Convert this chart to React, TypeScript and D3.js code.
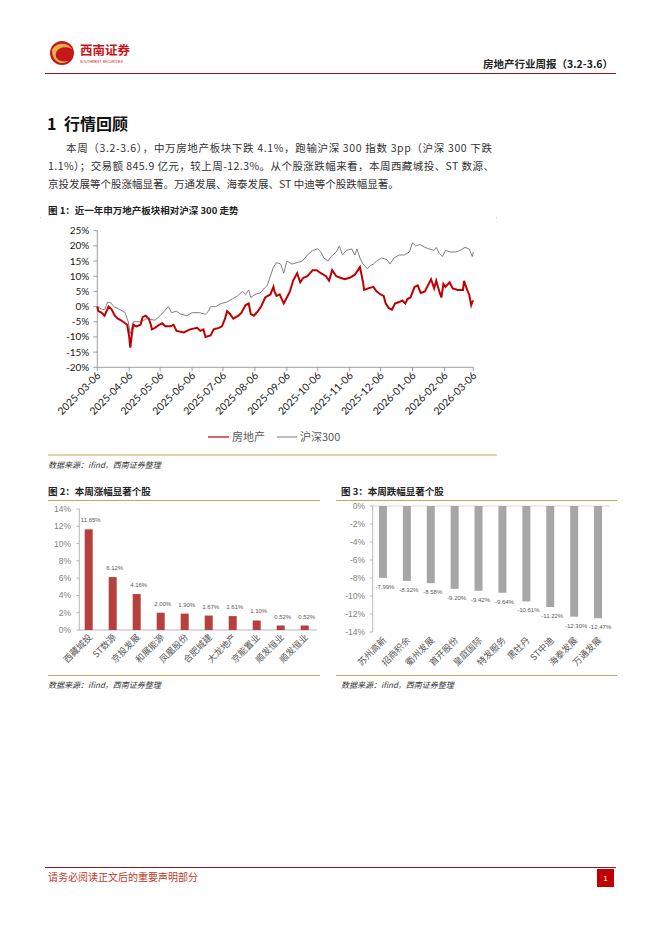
import React from "react";
import * as d3 from "d3";

const CJK = "'Noto Sans CJK SC', 'Liberation Sans', sans-serif";
const LAT = "'Liberation Sans', 'Noto Sans CJK SC', sans-serif";
const CAL = "Lato, 'Noto Sans CJK SC', sans-serif";

// chart 1: cumulative return (%), date / value
const monthTicks = [
  "2025-03-06", "2025-04-06", "2025-05-06", "2025-06-06", "2025-07-06", "2025-08-06", "2025-09-06",
  "2025-10-06", "2025-11-06", "2025-12-06", "2026-01-06", "2026-02-06", "2026-03-06",
];
const pctTicks1 = [-20, -15, -10, -5, 0, 5, 10, 15, 20, 25];

const realty: [string, number][] = [
  ["2025-03-06", 0], ["2025-03-07", -1.5], ["2025-03-10", -2], ["2025-03-13", -3], ["2025-03-17", 0],
  ["2025-03-20", -1], ["2025-03-23", -3], ["2025-03-26", -4], ["2025-03-29", -4.5], ["2025-04-02", -5.5],
  ["2025-04-04", -6], ["2025-04-06", -10], ["2025-04-07", -13.5], ["2025-04-09", -8], ["2025-04-10", -6],
  ["2025-04-13", -6.5], ["2025-04-17", -6], ["2025-04-19", -3.5], ["2025-04-22", -3], ["2025-04-25", -4],
  ["2025-04-27", -6], ["2025-04-28", -7.5], ["2025-05-01", -7], ["2025-05-05", -6], ["2025-05-08", -5.5],
  ["2025-05-11", -6.5], ["2025-05-16", -6.5], ["2025-05-19", -6], ["2025-05-22", -8], ["2025-05-29", -8.5],
  ["2025-06-04", -7.5], ["2025-06-11", -7], ["2025-06-14", -8], ["2025-06-17", -7.5], ["2025-06-19", -10],
  ["2025-06-24", -9.5], ["2025-06-27", -7.5], ["2025-07-02", -7], ["2025-07-05", -6.5], ["2025-07-08", -4],
  ["2025-07-10", -1.5], ["2025-07-13", -2.5], ["2025-07-16", -4], ["2025-07-21", -3], ["2025-07-24", -2],
  ["2025-07-28", 0.5], ["2025-07-31", 1], ["2025-08-02", -2.5], ["2025-08-05", -3], ["2025-08-09", -1.5],
  ["2025-08-12", 0], ["2025-08-16", 3], ["2025-08-21", 4], ["2025-08-24", 6.5], ["2025-08-25", 5],
  ["2025-08-27", 3.5], ["2025-08-30", 4], ["2025-09-03", 1], ["2025-09-06", 3], ["2025-09-09", 5],
  ["2025-09-12", 8.5], ["2025-09-16", 11], ["2025-09-19", 8], ["2025-09-22", 9.5], ["2025-09-26", 10],
  ["2025-10-01", 12], ["2025-10-05", 12], ["2025-10-09", 11], ["2025-10-14", 10], ["2025-10-17", 8.5],
  ["2025-10-20", 12], ["2025-10-24", 10], ["2025-10-28", 9.5], ["2025-11-01", 9], ["2025-11-06", 9.5],
  ["2025-11-11", 10.5], ["2025-11-14", 12], ["2025-11-16", 13], ["2025-11-19", 8], ["2025-11-20", 5.5],
  ["2025-11-24", 6], ["2025-11-29", 6.5], ["2025-12-02", 5], ["2025-12-06", 4], ["2025-12-09", 3.5],
  ["2025-12-11", 1], ["2025-12-14", -0.5], ["2025-12-17", -1], ["2025-12-20", 1], ["2025-12-24", 1.5],
  ["2025-12-27", 2], ["2025-12-30", 1], ["2026-01-01", 2.5], ["2026-01-04", 3], ["2026-01-08", 6.5],
  ["2026-01-11", 7], ["2026-01-14", 4.5], ["2026-01-18", 5], ["2026-01-21", 7], ["2026-01-24", 9],
  ["2026-01-27", 6], ["2026-01-29", 8.5], ["2026-02-01", 5], ["2026-02-03", 3], ["2026-02-05", 7.5],
  ["2026-02-07", 6.5], ["2026-02-11", 8], ["2026-02-14", 6], ["2026-02-19", 5.5], ["2026-02-24", 5.5],
  ["2026-02-25", 8.5], ["2026-02-28", 5.5], ["2026-03-02", 4], ["2026-03-04", 0.5], ["2026-03-05", 1.5],
  ["2026-03-06", 2],
];

const hs300: [string, number][] = [
  ["2025-03-06", 0], ["2025-03-10", -0.8], ["2025-03-13", -1], ["2025-03-16", 1.5], ["2025-03-19", 1.3],
  ["2025-03-22", 0], ["2025-03-28", -1], ["2025-04-02", -2], ["2025-04-05", -5], ["2025-04-07", -9],
  ["2025-04-10", -5], ["2025-04-17", -5], ["2025-04-23", -4], ["2025-05-01", -4.5], ["2025-05-06", -3],
  ["2025-05-14", 0], ["2025-05-17", -2], ["2025-05-22", -1.5], ["2025-05-26", -2.5], ["2025-06-01", -3],
  ["2025-06-06", -2], ["2025-06-13", -2], ["2025-06-19", -2.5], ["2025-06-22", -1.5], ["2025-06-24", 0],
  ["2025-06-29", 0], ["2025-07-04", 1], ["2025-07-10", 1.5], ["2025-07-15", 2.5], ["2025-07-20", 3.5],
  ["2025-07-25", 5], ["2025-07-28", 4], ["2025-07-31", 5.5], ["2025-08-02", 3], ["2025-08-06", 4],
  ["2025-08-11", 4.5], ["2025-08-18", 7], ["2025-08-21", 10], ["2025-08-24", 13], ["2025-08-27", 14.5],
  ["2025-08-31", 14], ["2025-09-03", 11], ["2025-09-06", 15], ["2025-09-11", 14], ["2025-09-16", 14.5],
  ["2025-09-21", 15], ["2025-09-26", 17], ["2025-10-01", 18.5], ["2025-10-06", 19], ["2025-10-09", 18],
  ["2025-10-12", 16], ["2025-10-16", 15], ["2025-10-19", 16.5], ["2025-10-24", 18], ["2025-10-27", 20],
  ["2025-10-30", 17], ["2025-11-03", 18.5], ["2025-11-08", 19], ["2025-11-11", 17], ["2025-11-13", 19],
  ["2025-11-16", 16], ["2025-11-19", 14], ["2025-11-23", 12.5], ["2025-11-26", 13.5], ["2025-11-29", 14],
  ["2025-12-02", 15], ["2025-12-07", 16], ["2025-12-12", 15.5], ["2025-12-15", 14], ["2025-12-19", 16],
  ["2025-12-24", 17], ["2025-12-29", 17], ["2026-01-03", 18], ["2026-01-06", 21], ["2026-01-09", 20],
  ["2026-01-13", 20.5], ["2026-01-18", 19.5], ["2026-01-22", 19], ["2026-01-27", 18.5], ["2026-01-29", 19.5],
  ["2026-02-01", 17.5], ["2026-02-04", 16.5], ["2026-02-07", 18.5], ["2026-02-12", 18], ["2026-02-17", 18],
  ["2026-02-21", 18.5], ["2026-02-26", 19.5], ["2026-03-02", 19], ["2026-03-05", 16.5], ["2026-03-06", 18],
];

// chart 2 / 3
const gainNames = ["西藏城投", "ST数源", "京投发展", "和展能源", "凤凰股份", "合肥城建", "大龙地产", "京能置业", "顺发恒业", "顺发恒业"];
const gainValues = [11.65, 6.12, 4.16, 2.0, 1.9, 1.67, 1.61, 1.1, 0.52, 0.52];
const gainTicks = [0, 2, 4, 6, 8, 10, 12, 14];

const lossNames = ["苏州高新", "招商积余", "衢州发展", "首开股份", "皇庭国际", "特发服务", "黑牡丹", "ST中迪", "海泰发展", "万通发展"];
const lossValues = [-7.99, -8.32, -8.58, -9.2, -9.42, -9.64, -10.61, -11.22, -12.3, -12.47];
const lossTicks = [0, -2, -4, -6, -8, -10, -12, -14];

const parse = d3.timeParse("%Y-%m-%d");
const GOLD = "#C9A55E";

function LineChart() {
  const x = d3.scaleTime().domain([parse("2025-03-06")!, parse("2026-03-06")!]).range([97.3, 473.3]);
  const y = d3.scaleLinear().domain([-20, 25]).range([367.3, 230.7]);
  const line = d3
    .line<[string, number]>()
    .x((d) => x(parse(d[0])!))
    .y((d) => y(d[1]));
  return (
    <g>
      <line x1={40} x2={41} y1={217.5} y2={217.5} stroke="#ccc" />
      <line x1={496} x2={497} y1={217.5} y2={217.5} stroke="#ccc" />
      {/* y axis */}
      <line x1={x.range()[0]} x2={x.range()[0]} y1={y(25)} y2={y(-20)} stroke="#868686" strokeWidth={0.8} />
      {pctTicks1.map((t) => (
        <g key={t}>
          <line x1={x.range()[0] - 4} x2={x.range()[0]} y1={y(t)} y2={y(t)} stroke="#868686" strokeWidth={0.8} />
          <text x={x.range()[0] - 8} y={y(t) + 3.5} textAnchor="end" fontSize={10} fontFamily={CAL} fill="#1a1a1a">
            {t}%
          </text>
        </g>
      ))}
      {/* x axis */}
      <line x1={x.range()[0]} x2={x.range()[1]} y1={y(-20)} y2={y(-20)} stroke="#868686" strokeWidth={0.8} />
      {monthTicks.map((t) => {
        const px = x(parse(t)!);
        return (
          <g key={t}>
            <line x1={px} x2={px} y1={y(-20)} y2={y(-20) + 4} stroke="#868686" strokeWidth={0.8} />
            <text
              transform={`translate(${px + 4},${y(-20) + 9}) rotate(-45)`}
              textAnchor="end"
              fontSize={10.3}
              fontFamily={CAL}
              fill="#1a1a1a"
            >
              {t}
            </text>
          </g>
        );
      })}
      <path d={line(hs300) || ""} fill="none" stroke="#808080" strokeWidth={1} />
      <path d={line(realty) || ""} fill="none" stroke="#C00000" strokeWidth={2} />
      {/* legend */}
      <line x1={208} x2={229} y1={437} y2={437} stroke="#C00000" strokeWidth={1.2} />
      <text x={232} y={441} fontSize={11} fontFamily={CJK} fill="#595959">房地产</text>
      <line x1={277} x2={297} y1={437} y2={437} stroke="#808080" strokeWidth={1} />
      <text x={300} y={441} fontSize={11} fontFamily={CJK} fill="#595959">沪深300</text>
      <line x1={48} x2={497} y1={455} y2={455} stroke={GOLD} strokeWidth={1} />
      <text x={48} y={468} fontSize={8} fontFamily={CJK} fontStyle="italic" fill="#333">
        数据来源：ifind，西南证券整理
      </text>
    </g>
  );
}

function GainChart() {
  const keys = gainNames.map((n, i) => i + n);
  const x = d3.scalePoint<string>().domain(keys).range([76.7, 316.7]).padding(0.5);
  const y = d3.scaleLinear().domain([0, 14]).range([630, 509]);
  return (
    <g>
      <text x={48} y={495} fontSize={9.5} fontWeight="bold" fontFamily={CJK} fill="#222">
        图 2：本周涨幅显著个股
      </text>
      <line x1={48} x2={320} y1={500.5} y2={500.5} stroke={GOLD} strokeWidth={1} />
      <line x1={79.3} x2={79.3} y1={y(14)} y2={y(0)} stroke="#A6A6A6" strokeWidth={0.8} />
      {gainTicks.map((t) => (
        <g key={t}>
          <line x1={76.3} x2={79.3} y1={y(t)} y2={y(t)} stroke="#A6A6A6" strokeWidth={0.8} />
          <text x={71} y={y(t) + 3} textAnchor="end" fontSize={8.5} fontFamily={LAT} fill="#7F7F7F">
            {t}%
          </text>
        </g>
      ))}
      <line x1={79.3} x2={317} y1={y(0)} y2={y(0)} stroke="#A6A6A6" strokeWidth={0.8} />
      {gainValues.map((v, i) => {
        const cx = x(keys[i])!;
        return (
          <g key={i}>
            <rect x={cx - 4} y={y(v)} width={8} height={y(0) - y(v)} fill="#B5403E" />
            <text x={cx + 2} y={y(v) - 7} textAnchor="middle" fontSize={6} fontFamily={LAT} fill="#595959">
              {v.toFixed(2)}%
            </text>
            <text
              transform={`translate(${cx + 4},${y(0) + 8}) rotate(-45)`}
              textAnchor="end"
              fontSize={9}
              fontFamily={CJK}
              fill="#595959"
            >
              {gainNames[i]}
            </text>
          </g>
        );
      })}
      <line x1={48} x2={320} y1={675.5} y2={675.5} stroke={GOLD} strokeWidth={1} />
      <text x={48} y={688} fontSize={8} fontFamily={CJK} fontStyle="italic" fill="#333">
        数据来源：ifind，西南证券整理
      </text>
    </g>
  );
}

function LossChart() {
  const keys = lossNames.map((n, i) => i + n);
  const x = d3.scalePoint<string>().domain(keys).range([371, 610]).padding(0.5);
  const y = d3.scaleLinear().domain([-14, 0]).range([632, 506]);
  return (
    <g>
      <text x={341} y={495} fontSize={9.5} fontWeight="bold" fontFamily={CJK} fill="#222">
        图 3：本周跌幅显著个股
      </text>
      <line x1={336} x2={617} y1={500.5} y2={500.5} stroke={GOLD} strokeWidth={1} />
      <line x1={372.7} x2={372.7} y1={y(0)} y2={y(-14)} stroke="#A6A6A6" strokeWidth={0.8} />
      {lossTicks.map((t) => (
        <g key={t}>
          <line x1={369.7} x2={372.7} y1={y(t)} y2={y(t)} stroke="#A6A6A6" strokeWidth={0.8} />
          <text x={365} y={y(t) + 3} textAnchor="end" fontSize={8.5} fontFamily={LAT} fill="#7F7F7F">
            {t}%
          </text>
        </g>
      ))}
      <line x1={372.7} x2={610} y1={y(0)} y2={y(0)} stroke="#D0D0D0" strokeWidth={0.8} />
      {lossValues.map((v, i) => {
        const cx = x(keys[i])!;
        return (
          <g key={i}>
            <rect x={cx - 4} y={y(0)} width={8} height={y(v) - y(0)} fill="#A6A6A6" />
            <text x={cx + 2} y={y(v) + 11} textAnchor="middle" fontSize={6} fontFamily={LAT} fill="#595959">
              {v.toFixed(2)}%
            </text>
            <text
              transform={`translate(${cx + 4},${y(-14) + 9}) rotate(-45)`}
              textAnchor="end"
              fontSize={9}
              fontFamily={CJK}
              fill="#595959"
            >
              {lossNames[i]}
            </text>
          </g>
        );
      })}
      <line x1={336} x2={617} y1={675.5} y2={675.5} stroke={GOLD} strokeWidth={1} />
      <text x={341} y={688} fontSize={8} fontFamily={CJK} fontStyle="italic" fill="#333">
        数据来源：ifind，西南证券整理
      </text>
    </g>
  );
}

export default function App() {
  return (
    <svg
      width={662}
      height={936}
      viewBox="0 0 662 936"
      style={{ position: "absolute", left: 0, top: 0, background: "#fff" }}
    >
      {/* header */}
      <circle cx={62} cy={53} r={12} fill="#C8161D" />
      <path d="M52,50 C56,42 68,42 72,49 C66,46 58,47 56,53 C54,58 60,63 68,61 C62,66 52,62 52,50 Z" fill="#E9B04A" />
      <text x={80} y={55} fontSize={12.5} fontWeight="bold" fontFamily={CJK} fill="#C8161D">西南证券</text>
      <text x={80} y={63} fontSize={3.4} fontFamily={LAT} fill="#C8161D">SOUTHWEST SECURITIES</text>
      <text x={613} y={68} textAnchor="end" fontSize={10.5} fontWeight="bold" fontFamily={CJK} fill="#222">
        房地产行业周报（3.2-3.6）
      </text>
      <line x1={45} x2={616} y1={73.5} y2={73.5} stroke="#8B1A1A" strokeWidth={1} />

      {/* section */}
      <text x={47} y={130} fontSize={16} fontWeight="bold" fontFamily={CJK} fill="#111">1</text>
      <text x={64} y={130} fontSize={16} fontWeight="bold" fontFamily={CJK} fill="#111">行情回顾</text>
      <text x={66} y={152} fontSize={10.5} fontFamily={CJK} fill="#333" textLength={426} lengthAdjust="spacing">
        本周（3.2-3.6），中万房地产板块下跌 4.1%，跑输沪深 300 指数 3pp（沪深 300 下跌
      </text>
      <text x={48} y={170} fontSize={10.5} fontFamily={CJK} fill="#333" textLength={446} lengthAdjust="spacing">
        1.1%）；交易额 845.9 亿元，较上周-12.3%。从个股涨跌幅来看，本周西藏城投、ST 数源、
      </text>
      <text x={48} y={188} fontSize={10.5} fontFamily={CJK} fill="#333">
        京投发展等个股涨幅显著。万通发展、海泰发展、ST 中迪等个股跌幅显著。
      </text>
      <text x={48} y={214} fontSize={9.5} fontWeight="bold" fontFamily={CJK} fill="#222">
        图 1：近一年申万地产板块相对沪深 300 走势
      </text>

      <LineChart />
      <GainChart />
      <LossChart />

      {/* footer */}
      <line x1={45} x2={616} y1={867.5} y2={867.5} stroke="#8B1A1A" strokeWidth={1} />
      <text x={48} y={881} fontSize={10} fontFamily={CJK} fill="#C0392B">请务必阅读正文后的重要声明部分</text>
      <rect x={597} y={869} width={17} height={18} fill="#C00000" />
      <text x={605.5} y={881} textAnchor="middle" fontSize={8} fontFamily={LAT} fill="#fff">1</text>
    </svg>
  );
}
